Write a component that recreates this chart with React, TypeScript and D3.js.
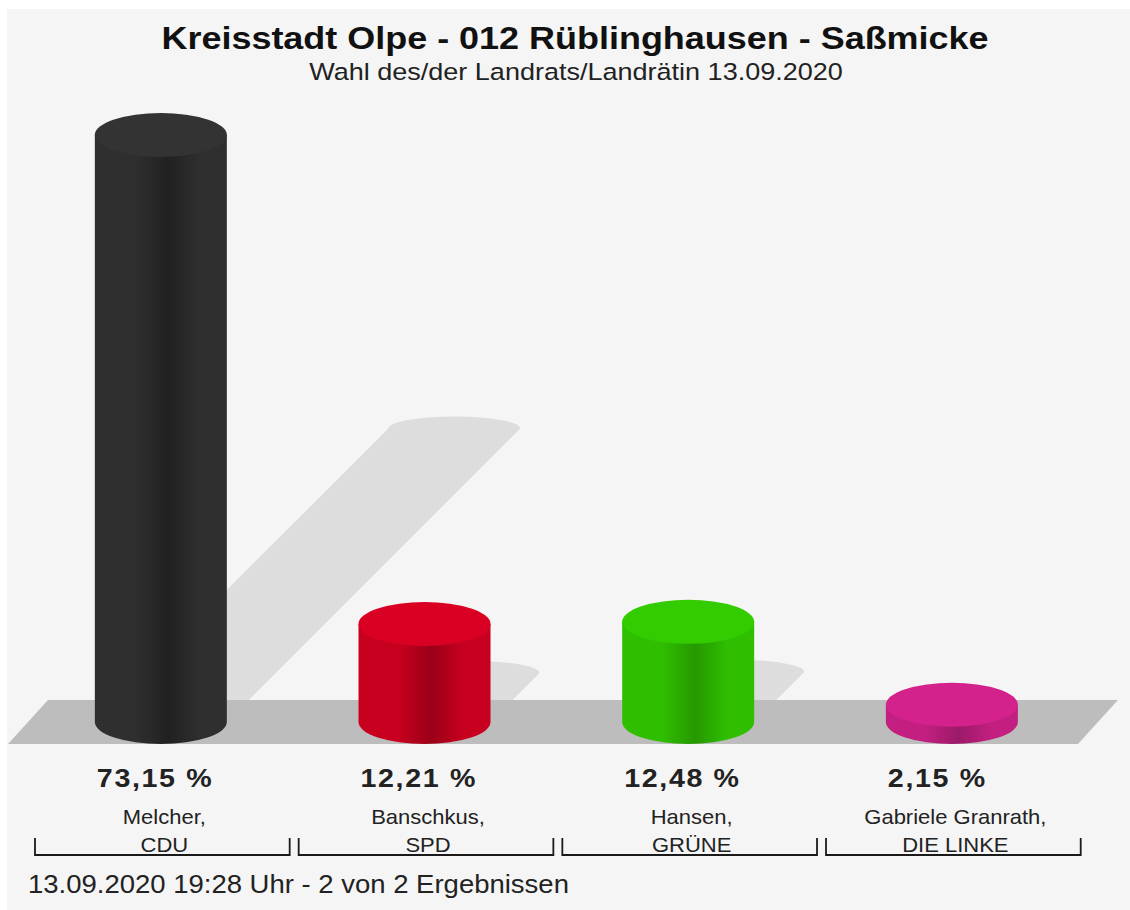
import React from "react";
import * as d3 from "d3";

const candidates = ["Melcher,", "Banschkus,", "Hansen,", "Gabriele Granrath,"];
const parties = ["CDU", "SPD", "GRÜNE", "DIE LINKE"];
const values = [73.15, 12.21, 12.48, 2.15];
const topColors = ["#333333", "#d90024", "#33cc00", "#d4228c"];
const sideLight = ["#2f2f2f", "#c8001f", "#2fbf00", "#c21f80"];
const sideDark = ["#212121", "#9a0018", "#269800", "#9c1a68"];
const title = "Kreisstadt Olpe - 012 Rüblinghausen - Saßmicke";
const subtitle = "Wahl des/der Landrats/Landrätin 13.09.2020";
const footer = "13.09.2020 19:28 Uhr - 2 von 2 Ergebnissen";

const W = 1130;
const H = 910;
const FONT = "'Liberation Sans', Arial, Helvetica, sans-serif";

export default function App() {
  const x = d3
    .scaleBand<string>()
    .domain(parties)
    .range([30.5, 1085.2])
    .paddingInner(0.0341)
    .paddingOuter(0.01705);
  const y = d3.scaleLinear().domain([0, 100]).range([722, 722 - 802.5]);
  const base = y(0);
  const rx = 66;
  const ry = 22;
  const fmt = d3.format(".2f");

  return (
    <svg
      width={W}
      height={H}
      style={{ position: "absolute", left: 0, top: 0, display: "block" }}
    >
      <defs>
        {parties.map((p, i) => (
          <linearGradient key={p} id={`side${i}`} x1="0" x2="1" y1="0" y2="0">
            <stop offset="0" stopColor={sideLight[i]} />
            <stop offset="0.3" stopColor={sideLight[i]} />
            <stop offset="0.55" stopColor={sideDark[i]} />
            <stop offset="0.8" stopColor={sideLight[i]} />
            <stop offset="1" stopColor={sideLight[i]} />
          </linearGradient>
        ))}
      </defs>
      <rect x={0} y={0} width={W} height={H} fill="#ffffff" />
      <rect x={7} y={9} width={W - 7} height={H - 9} fill="#f5f5f5" />

      {/* shadows */}
      {parties.map((p, i) => {
        const cx = (x(p) as number) + x.bandwidth() / 2 - 1.5;
        const h = base - y(values[i]);
        const d = 0.5 * h;
        const x0 = cx - rx;
        const x1 = cx + rx;
        const path = `M${x0},${base} L${x0 + d},${base - d} A${rx},12 0 0 1 ${x1 + d},${base - d} L${x1},${base} Z`;
        return <path key={p} d={path} fill="#dddddd" />;
      })}

      {/* floor */}
      <path d="M48,700 L1118,700 L1078,744 L8,744 Z" fill="#bdbdbd" />

      {/* bars */}
      {parties.map((p, i) => {
        const cx = (x(p) as number) + x.bandwidth() / 2 - 1.5;
        const yt = y(values[i]);
        const x0 = cx - rx;
        const x1 = cx + rx;
        const side = `M${x0},${yt} L${x0},${base} A${rx},${ry} 0 0 0 ${x1},${base} L${x1},${yt} Z`;
        return (
          <g key={p}>
            <path d={side} fill={`url(#side${i})`} />
            <ellipse cx={cx} cy={yt} rx={rx} ry={ry} fill={topColors[i]} />
          </g>
        );
      })}

      {/* title */}
      <text
        transform="translate(575,49) scale(1.16,1)"
        textAnchor="middle"
        fontFamily={FONT}
        fontWeight="bold"
        fontSize={31}
        fill="#111"
      >
        {title}
      </text>
      <text
        transform="translate(576,80) scale(1.15,1)"
        textAnchor="middle"
        fontFamily={FONT}
        fontSize={23.5}
        fill="#222"
      >
        {subtitle}
      </text>

      {/* labels */}
      {parties.map((p, i) => {
        const bx = x(p) as number;
        const cx = bx + x.bandwidth() / 2;
        const left = cx - 1.5 - rx + 2;
        const pct = fmt(values[i]).replace(".", ",") + " %";
        return (
          <g key={p} fill="#222" fontFamily={FONT}>
            <text
              transform={`translate(${left},787) scale(1.1,1)`}
              fontWeight="bold"
              fontSize={26}
              letterSpacing={1.5}
            >
              {pct}
            </text>
            <text
              transform={`translate(${cx + 2},824) scale(1.1,1)`}
              textAnchor="middle"
              fontSize={20}
            >
              {candidates[i]}
            </text>
            <text
              transform={`translate(${cx + 2},852) scale(1.1,1)`}
              textAnchor="middle"
              fontSize={20}
            >
              {p}
            </text>
            <path
              d={`M${bx},838 L${bx},855 L${bx + x.bandwidth()},855 L${bx + x.bandwidth()},838`}
              fill="none"
              stroke="#1a1a1a"
              strokeWidth={1.8}
            />
          </g>
        );
      })}

      <text
        transform="translate(28,893) scale(1.1,1)"
        fontFamily={FONT}
        fontSize={25}
        fill="#222"
      >
        {footer}
      </text>
    </svg>
  );
}
